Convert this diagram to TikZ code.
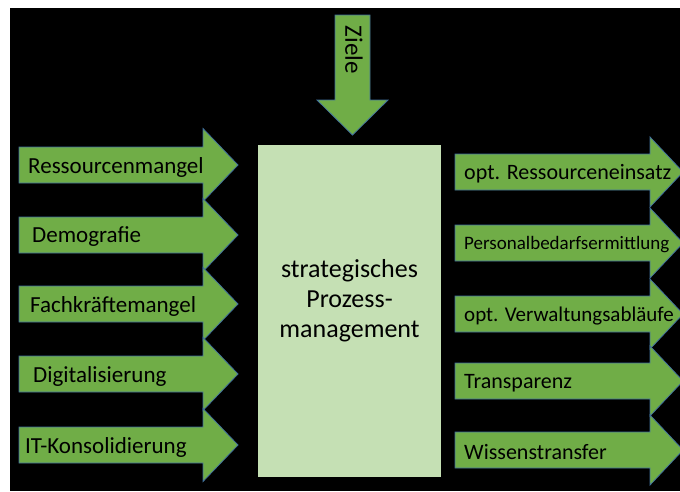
\documentclass[tikz,border=0pt]{standalone}
\usepackage{fontspec}
\setmainfont{Carlito}
\definecolor{arrowgreen}{HTML}{70AD47}
\definecolor{arrowblue}{HTML}{41719C}
\definecolor{boxgreen}{HTML}{C5E0B4}
\begin{document}
\begin{tikzpicture}[x=1pt, y=-1pt,
blockarrow/.style={fill=arrowgreen, draw=arrowblue, line width=0.8pt},
process/.style={rectangle, fill=boxgreen, inner sep=0pt, minimum width=183pt, minimum height=332pt},
cause/.style={anchor=west, inner sep=0pt, font=\fontsize{23}{26}\selectfont},
effect/.style={anchor=west, inner sep=0pt, font=\fontsize{22}{26}\selectfont},
]
\clip (0,0) rectangle (680,491);
\fill[white] (0,0) rectangle (680,491);
\fill[black] (10,8) rectangle (680,491);
% goal arrow
\draw[blockarrow] (335,15) -- (370,15) -- (370,100) -- (388,100) -- (352.5,135)
    -- (317,100) -- (335,100) -- cycle;
\node[rotate=-90, inner sep=0pt, font=\fontsize{25}{30}\selectfont] (goal) at (354,50) {Ziele};
% central box
\node[process] (P) at (349.5,311) {};
\node[align=center, inner sep=0pt, font=\fontsize{26}{30}\selectfont] (Ptext) at (349.5,301)
    {strategisches\\Prozess-\\management};
% causes
\foreach \y/\name/\txt/\dx in {165/c1/Ressourcenmangel/28, 235/c2/Demografie/32,
    304/c3/Fachkräftemangel/30, 374/c4/Digitalisierung/33, 445/c5/IT-Konsolidierung/25}
{
  \draw[blockarrow] (19,\y-18) -- (203,\y-18) -- (203,\y-36.5) -- (238,\y)
      -- (203,\y+36.5) -- (203,\y+18) -- (19,\y+18) -- cycle;
  \node[cause] (\name) at (\dx,\y+2) {\txt};
}
% effects
\foreach \y/\name/\txt/\fs in {172/e1/opt. Ressourceneinsatz/22, 243/e2/Personalbedarfsermittlung/19,
    314/e3/opt. Verwaltungsabläufe/21, 381/e4/Transparenz/22, 450/e5/Wissenstransfer/22}
{
  \draw[blockarrow] (455,\y-18) -- (650,\y-18) -- (650,\y-35) -- (683,\y)
      -- (650,\y+35) -- (650,\y+18) -- (455,\y+18) -- cycle;
  \node[effect, font=\fontsize{\fs}{26}\selectfont] (\name) at (464,\y+2) {\txt};
}
\end{tikzpicture}
\end{document}
